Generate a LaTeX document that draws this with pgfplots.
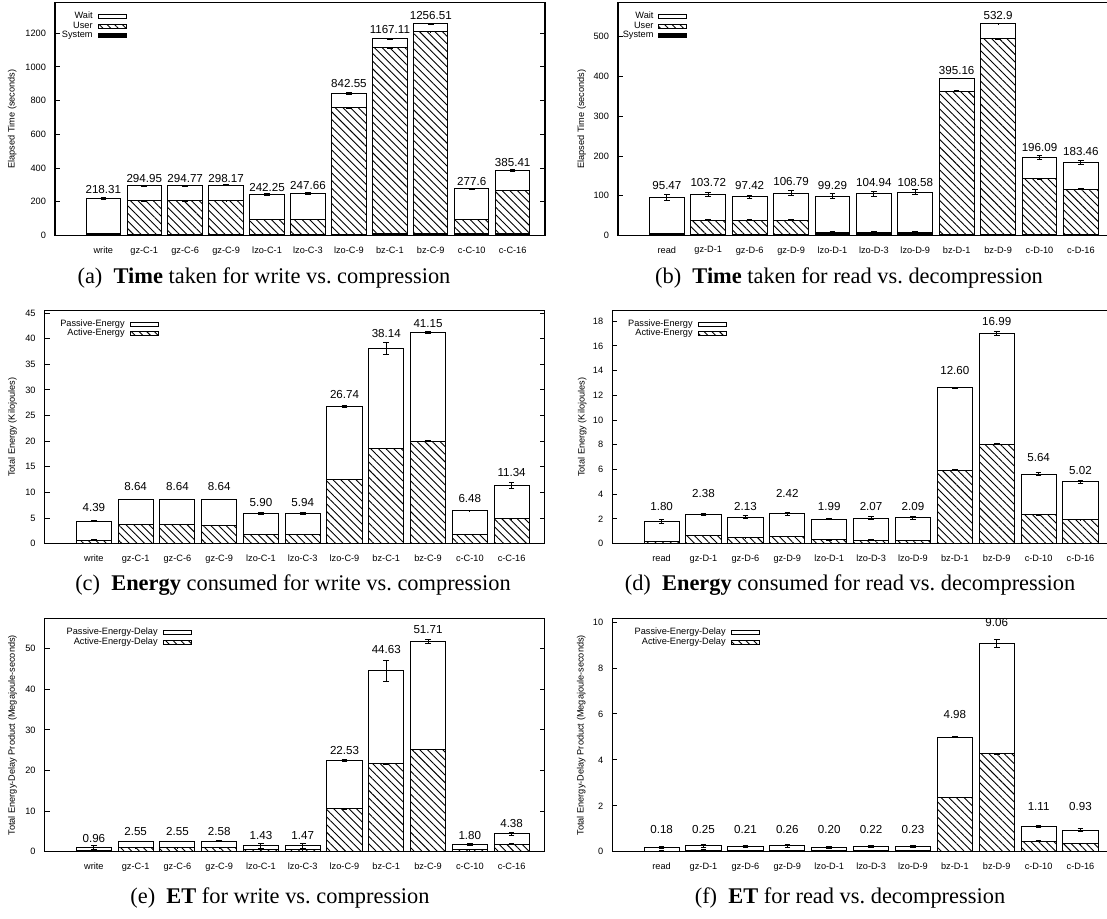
\documentclass[border=0pt]{standalone}
\usepackage{fontspec}
\setmainfont{Liberation Serif}
\newfontfamily\hv{Liberation Sans}
\usepackage{pgfplots}
\usepackage{pgfplotstable}
\pgfplotsset{compat=1.18}
\usetikzlibrary{patterns.meta}

\newcommand\tickfont{\hv\fontsize{4.6}{5}\selectfont}
\newcommand\valfont{\hv\fontsize{5.8}{6.5}\selectfont}
\newcommand\capfont{\fontsize{11.2}{13}\selectfont}

% x: category, tot: total, err: error of total, usr: user (cumulative), uerr: its error,
% sys: system, ly: label baseline, lab: label text
\pgfplotstableread{
x tot err usr uerr sys ly lab
0 218.31 6 11 1 10 250 218.31
1 294.95 3 205 2 5 317 294.95
2 294.77 3 206 2 5 317 294.77
3 298.17 3 207 2 5 317 298.17
4 242.25 4 95 2 5 264 242.25
5 247.66 5 95 2 5 272 247.66
6 842.55 4 758 2 5 875 842.55
7 1167.11 4 1113 3 12 1198 1167.11
8 1256.51 3 1210 2 12 1283 1256.51
9 277.6 4 95 2 12 296 277.6
10 385.41 4 267 2 12 410 385.41
}\timeW

\pgfplotstableread{
x tot err usr uerr sys ly lab
0 95.47 7 5 0.5 5 115 95.47
1 103.72 5 39 1 2 122.5 103.72
2 97.42 4 39 1 2 115 97.42
3 106.79 6 39 1 2 125 106.79
4 99.29 6 7 2 6 116.5 99.29
5 104.94 7 7 2 6 123 104.94
6 108.58 6 7 2 6 123 108.58
7 395.16 1 363 1 2 405 395.16
8 532.9 0.5 495 1 2 544 532.9
9 196.09 4 143 1 3 211.5 196.09
10 183.46 5 117 1 3 201 183.46
}\timeR

\pgfplotstableread{
x tot err act aerr ly lab
0 4.39 0.15 0.72 0.05 6.25 4.39
1 8.64 0.03 3.78 0.03 10.35 8.64
2 8.64 0.03 3.75 0.03 10.35 8.64
3 8.64 0.03 3.58 0.03 10.35 8.64
4 5.90 0.2 1.82 0.03 7.23 5.90
5 5.94 0.15 1.82 0.03 7.23 5.94
6 26.74 0.15 12.57 0.05 28.26 26.74
7 38.14 1.2 18.55 0.05 40.23 38.14
8 41.15 0.2 20.0 0.05 42.25 41.15
9 6.48 0.05 1.82 0.03 8.07 6.48
10 11.34 0.6 4.88 0.05 13.2 11.34
}\enW

\pgfplotstableread{
x tot err act aerr ly lab
0 1.80 0.15 0.19 0.02 2.65 1.80
1 2.38 0.08 0.68 0.02 3.73 2.38
2 2.13 0.12 0.49 0.02 2.65 2.13
3 2.42 0.1 0.60 0.02 3.73 2.42
4 1.99 0.07 0.32 0.02 2.65 1.99
5 2.07 0.1 0.30 0.02 2.65 2.07
6 2.09 0.1 0.27 0.02 2.65 2.09
7 12.60 0.02 5.95 0.02 13.67 12.60
8 16.99 0.15 8.04 0.03 17.67 16.99
9 5.64 0.1 2.35 0.03 6.66 5.64
10 5.02 0.12 1.95 0.03 5.63 5.02
}\enR

\pgfplotstableread{
x tot err act aerr ly lab
0 0.96 0.5 0.3 0.05 2.3 0.96
1 2.55 0.08 1.0 0.05 4.0 2.55
2 2.55 0.08 1.0 0.05 4.0 2.55
3 2.58 0.08 1.0 0.05 4.0 2.58
4 1.43 0.6 0.5 0.05 3.1 1.43
5 1.47 0.6 0.5 0.05 3.1 1.47
6 22.53 0.2 10.6 0.1 24.06 22.53
7 44.63 2.6 21.7 0.1 48.85 44.63
8 51.71 0.5 25.2 0.1 53.78 51.71
9 1.80 0.3 0.5 0.05 3.1 1.80
10 4.38 0.4 1.9 0.05 6.0 4.38
}\etW

\pgfplotstableread{
x tot err act aerr ly lab
0 0.18 0.04 0.03 0.01 0.8 0.18
1 0.25 0.06 0.07 0.01 0.8 0.25
2 0.21 0.04 0.06 0.01 0.8 0.21
3 0.26 0.06 0.06 0.01 0.8 0.26
4 0.20 0.04 0.04 0.01 0.8 0.20
5 0.22 0.04 0.04 0.01 0.8 0.22
6 0.23 0.05 0.04 0.01 0.8 0.23
7 4.98 0.02 2.37 0.01 5.81 4.98
8 9.06 0.18 4.27 0.02 9.80 9.06
9 1.11 0.05 0.46 0.01 1.81 1.11
10 0.93 0.06 0.35 0.01 1.81 0.93
}\etR

\pgfplotsset{
  bench/.style={
    scale only axis, height=116.5pt, anchor=south west,
    xmin=-1.18, xmax=10.79, ymin=0,
    xtick={0,...,10}, xtick style={draw=none},
    axis line style={line width=0.6pt},
    ytick style={black, line width=0.5pt},
    major tick length=2.5pt, tick align=inside,
    yticklabel pos=left,
    tick label style={font=\tickfont},
    xticklabel style={yshift=-2pt},
    yticklabel style={xshift=-1pt},
    /pgf/number format/assume math mode=true,
    /pgf/number format/1000 sep={},
    label style={font=\tickfont},
    clip=false,
    legend cell align=right,
    legend plot pos=right,
    legend style={draw=none, fill=none, anchor=north east, xshift=2.5pt,
      font=\tickfont, column sep=2.5pt, row sep=0pt,
      nodes={inner sep=0pt, text height=3.3pt, text depth=1.3pt}},
    legend image code/.code={\draw[##1] (0pt,-1pt) rectangle (14pt,1pt);},
  },
  bar/.style={ybar, bar width=0.84, bar shift=0pt, draw=black, line width=0.5pt},
  waitbar/.style={bar, fill=white},
  userbar/.style={bar, pattern={Lines[angle=-45,distance=2.7pt,line width=0.45pt]}},
  sysbar/.style={bar, fill=black},
  eb/.style={error bars/.cd, y dir=both, y explicit,
    error mark options={rotate=90, mark size=1.4pt, line width=0.5pt, black},
    error bar style={line width=0.5pt, black}},
  vals/.style={forget plot, draw=none, mark=none, point meta=explicit symbolic,
    nodes near coords,
    every node near coord/.append style={anchor=base, inner sep=0pt, font=\valfont, black}},
}

\begin{document}
\begin{tikzpicture}
\useasboundingbox (0,0) rectangle (553.5pt,-459pt);

% (a) elapsed time, write vs. compression
\begin{axis}[bench, at={(27.5pt,-117.75pt)}, width=245pt,
  ymax=1382, ytick={0,200,...,1200},
  xticklabels={write,gz-C-1,gz-C-6,gz-C-9,lzo-C-1,lzo-C-3,lzo-C-9,bz-C-1,bz-C-9,c-C-10,c-C-16},
  ylabel={Elapsed Time (seconds)},
  ylabel style={at={(axis description cs:-0.087,0.5)}, anchor=center},
  legend style={at={(axis description cs:0.149,0.977)}}]
\addplot[waitbar, eb] table[x=x, y=tot, y error=err]{\timeW};
\addplot[userbar, eb] table[x=x, y=usr, y error=uerr]{\timeW};
\addplot[sysbar] table[x=x, y=sys]{\timeW};
\addplot[vals] table[x=x, y=ly, meta=lab]{\timeW};
\legend{Wait,User,System}
\end{axis}

% (b) elapsed time, read vs. decompression
\begin{axis}[bench, at={(309pt,-117.75pt)}, width=247.8pt,
  ymax=586.2, ytick={0,100,...,500},
  xticklabels={read,gz-D-1,gz-D-6,gz-D-9,lzo-D-1,lzo-D-3,lzo-D-9,bz-D-1,bz-D-9,c-D-10,c-D-16},
  ylabel={Elapsed Time (seconds)},
  ylabel style={at={(axis description cs:-0.073,0.5)}, anchor=center},
  legend style={at={(axis description cs:0.143,0.977)}}]
\addplot[waitbar, eb] table[x=x, y=tot, y error=err]{\timeR};
\addplot[userbar, eb] table[x=x, y=usr, y error=uerr]{\timeR};
\addplot[sysbar] table[x=x, y=sys]{\timeR};
\addplot[vals] table[x=x, y=ly, meta=lab]{\timeR};
\legend{Wait,User,System}
\end{axis}

% (c) energy, write vs. compression
\begin{axis}[bench, at={(22.3pt,-271.85pt)}, width=250pt,
  ymax=45.46, ytick={0,5,...,45},
  xticklabels={write,gz-C-1,gz-C-6,gz-C-9,lzo-C-1,lzo-C-3,lzo-C-9,bz-C-1,bz-C-9,c-C-10,c-C-16},
  ylabel={Total Energy (Kilojoules)},
  ylabel style={at={(axis description cs:-0.064,0.5)}, anchor=center},
  legend style={at={(axis description cs:0.231,0.98)}}]
\addplot[waitbar, eb] table[x=x, y=tot, y error=err]{\enW};
\addplot[userbar, eb] table[x=x, y=act, y error=aerr]{\enW};
\addplot[vals] table[x=x, y=ly, meta=lab]{\enW};
\legend{Passive-Energy,Active-Energy}
\end{axis}

% (d) energy, read vs. decompression
\begin{axis}[bench, at={(306.1pt,-271.85pt)}, width=250.7pt,
  ymax=18.85, ytick={0,2,...,18},
  xticklabels={read,gz-D-1,gz-D-6,gz-D-9,lzo-D-1,lzo-D-3,lzo-D-9,bz-D-1,bz-D-9,c-D-10,c-D-16},
  ylabel={Total Energy (Kilojoules)},
  ylabel style={at={(axis description cs:-0.06,0.5)}, anchor=center},
  legend style={at={(axis description cs:0.231,0.98)}}]
\addplot[waitbar, eb] table[x=x, y=tot, y error=err]{\enR};
\addplot[userbar, eb] table[x=x, y=act, y error=aerr]{\enR};
\addplot[vals] table[x=x, y=ly, meta=lab]{\enR};
\legend{Passive-Energy,Active-Energy}
\end{axis}

% (e) energy-delay product, write vs. compression
\begin{axis}[bench, at={(22.3pt,-425.85pt)}, width=250pt,
  ymax=57.4, ytick={0,10,...,50},
  xticklabels={write,gz-C-1,gz-C-6,gz-C-9,lzo-C-1,lzo-C-3,lzo-C-9,bz-C-1,bz-C-9,c-C-10,c-C-16},
  ylabel={Total Energy-Delay Product (Megajoule-seconds)},
  ylabel style={at={(axis description cs:-0.064,0.5)}, anchor=center},
  legend style={at={(axis description cs:0.297,0.978)}}]
\addplot[waitbar, eb] table[x=x, y=tot, y error=err]{\etW};
\addplot[userbar, eb] table[x=x, y=act, y error=aerr]{\etW};
\addplot[vals] table[x=x, y=ly, meta=lab]{\etW};
\legend{Passive-Energy-Delay,Active-Energy-Delay}
\end{axis}

% (f) energy-delay product, read vs. decompression
\begin{axis}[bench, at={(306.1pt,-425.85pt)}, width=250.7pt,
  ymax=10.15, ytick={0,2,...,10},
  xticklabels={read,gz-D-1,gz-D-6,gz-D-9,lzo-D-1,lzo-D-3,lzo-D-9,bz-D-1,bz-D-9,c-D-10,c-D-16},
  ylabel={Total Energy-Delay Product (Megajoule-seconds)},
  ylabel style={at={(axis description cs:-0.062,0.5)}, anchor=center},
  legend style={at={(axis description cs:0.297,0.978)}}]
\addplot[waitbar, eb] table[x=x, y=tot, y error=err]{\etR};
\addplot[userbar, eb] table[x=x, y=act, y error=aerr]{\etR};
\addplot[vals] table[x=x, y=ly, meta=lab]{\etR};
\legend{Passive-Energy-Delay,Active-Energy-Delay}
\end{axis}

% sub-captions
\node[font=\capfont] at (132pt,-139pt) {(a)\hspace{0.5em}\textbf{Time} taken for write vs.\ compression};
\node[font=\capfont] at (424.5pt,-139pt) {(b)\hspace{0.5em}\textbf{Time} taken for read vs.\ decompression};
\node[font=\capfont] at (146.5pt,-292.5pt) {(c)\hspace{0.5em}\textbf{Energy} consumed for write vs.\ compression};
\node[font=\capfont] at (425pt,-292.5pt) {(d)\hspace{0.5em}\textbf{Energy} consumed for read vs.\ decompression};
\node[font=\capfont] at (140pt,-449pt) {(e)\hspace{0.5em}\textbf{ET} for write vs.\ compression};
\node[font=\capfont] at (425pt,-449pt) {(f)\hspace{0.5em}\textbf{ET} for read vs.\ decompression};
\end{tikzpicture}
\end{document}
